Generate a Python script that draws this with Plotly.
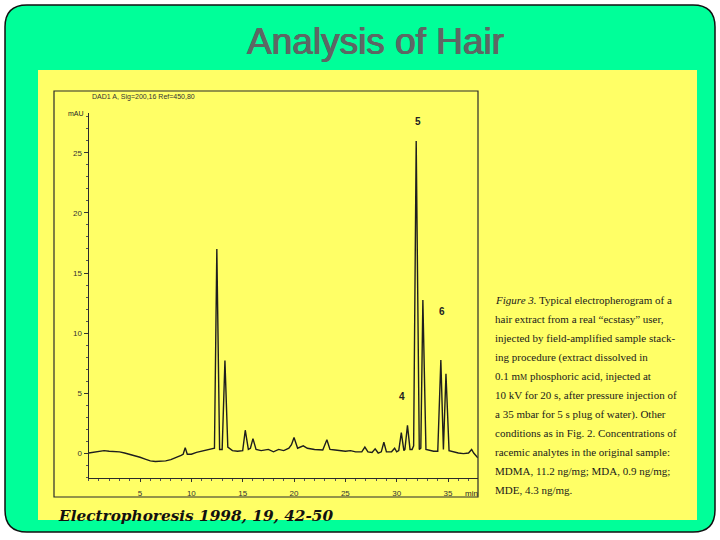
import plotly.graph_objects as go

# ---------------- data ----------------
time_min = [0.0, 0.5, 1.0, 1.5, 2.0, 2.5, 3.0, 3.5, 4.0, 4.5, 5.0, 5.5, 6.0, 6.5, 7.0, 7.5,
            8.0, 8.5, 9.0, 9.2, 9.4, 9.6, 10.0, 10.5, 11.0, 11.5, 12.0, 12.25, 12.48, 12.75,
            13.0, 13.27, 13.55, 14.0, 14.5, 15.0, 15.25, 15.55, 15.75, 16.0, 16.3, 16.8,
            17.5, 18.0, 18.5, 19.0, 19.5, 19.75, 20.0, 20.35, 20.9, 21.3, 22.0, 22.8, 23.2,
            23.5, 24.0, 25.0, 25.5, 26.0, 26.6, 26.9, 27.2, 27.6, 27.9, 28.2, 28.5, 28.75,
            29.0, 29.5, 29.8, 30.0, 30.2, 30.45, 30.7, 30.8, 31.05, 31.3, 31.5, 31.65, 31.9,
            32.2, 32.35, 32.55, 32.85, 33.2, 33.6, 34.0, 34.3, 34.55, 34.8, 35.1, 35.5, 36.0,
            36.5, 37.0, 37.3, 37.5, 37.9]
signal_mau = [0.0, 0.05, 0.15, 0.2, 0.15, 0.15, 0.1, 0.0, -0.1, -0.2, -0.35, -0.5, -0.65, -0.7, -0.7, -0.65,
              -0.55, -0.4, -0.2, -0.1, 0.45, -0.1, -0.1, 0.05, 0.15, 0.3, 0.35, 0.4, 17.0, 0.3,
              0.3, 7.7, 0.5, 0.2, 0.15, 0.2, 1.9, 0.3, 0.4, 1.2, 0.3, 0.2,
              0.3, 0.1, 0.3, 0.2, 0.4, 0.7, 1.3, 0.4, 0.6, 0.4, 0.3, 0.25, 1.1,
              0.3, 0.25, 0.15, 0.2, 0.1, 0.1, 0.5, 0.1, 0.05, 0.35, 0.0, 0.1, 0.9,
              0.1, 0.1, 0.4, 0.1, 0.2, 1.7, 0.2, 0.3, 2.3, 0.3, 0.3, 0.6, 26.0,
              0.3, 0.4, 12.75, 0.3, 0.2, 0.15, 0.15, 7.75, 0.3, 6.6, 0.2, 0.1, 0.0,
              -0.05, 0.0, 0.3, 0.0, -0.4]

peak_labels = ["4", "5", "6"]
peak_label_time = [30.56, 32.07, 34.41]
peak_label_mau = [4.67, 27.6, 11.83]

y_tick_vals = [0, 5, 10, 15, 20, 25]
x_tick_vals = [5, 10, 15, 20, 25, 30, 35]

caption_lines = [
    "<i>Figure 3.</i> Typical electropherogram of a",
    "hair extract from a real \u201cecstasy\u201d user,",
    "injected by field-amplified sample stack-",
    "ing procedure (extract dissolved in",
    "0.1 m<span style='font-size:8px'>M</span> phosphoric acid, injected at",
    "10 kV for 20 s, after pressure injection of",
    "a 35 mbar for 5 s plug of water). Other",
    "conditions as in Fig. 2. Concentrations of",
    "racemic analytes in the original sample:",
    "MDMA, 11.2 ng/mg; MDA, 0.9 ng/mg;",
    "MDE, 4.3 ng/mg.",
]

W, H = 720, 540


def px(x):
    return x / W


def py(y):
    return 1 - y / H


fig = go.Figure()
fig.add_trace(go.Scatter(x=time_min, y=signal_mau, mode="lines",
                         line=dict(color="#1e1e1e", width=1.4), hoverinfo="skip",
                         showlegend=False))

# ---------- slide background shapes ----------
x0, x1, y0, y1 = px(5), px(715), py(532), py(5)
rx, ry = 22 / W, 22 / H
rounded = (f"M {x0+rx},{y1} L {x1-rx},{y1} Q {x1},{y1} {x1},{y1-ry} "
           f"L {x1},{y0+ry} Q {x1},{y0} {x1-rx},{y0} L {x0+rx},{y0} "
           f"Q {x0},{y0} {x0},{y0+ry} L {x0},{y1-ry} Q {x0},{y1} {x0+rx},{y1} Z")
shapes = [
    dict(type="path", xref="paper", yref="paper", path=rounded,
         fillcolor="#00FF99", line=dict(color="#111111", width=1.5), layer="below"),
    dict(type="rect", xref="paper", yref="paper", x0=px(38), x1=px(697), y0=py(520), y1=py(70),
         fillcolor="#FFFF66", line=dict(width=0), layer="below"),
    dict(type="rect", xref="paper", yref="paper", x0=px(54), x1=px(478), y0=py(497), y1=py(91),
         fillcolor="rgba(0,0,0,0)", line=dict(color="#2a2a2a", width=1.2), layer="below"),
]

title_color = "#5d6764"
annotations = [
    dict(text="Analysis of Hair", x=px(375), y=py(41), xref="paper", yref="paper",
         showarrow=False, xanchor="center", yanchor="middle",
         font=dict(family="Liberation Sans, Arial", size=37, color=title_color,
                   shadow=f"0.6px 0 0 {title_color}, -0.6px 0 0 {title_color}")),
    dict(text="<b><i>Electrophoresis 1998, 19, 42-50</i></b>", x=px(56), y=py(516),
         xref="paper", yref="paper", showarrow=False, xanchor="left", yanchor="middle",
         font=dict(family="DejaVu Serif, Liberation Serif, serif", size=15.3, color="#111111")),
    dict(text="DAD1 A, Sig=200,16 Ref=450,80", x=px(90), y=py(97), xref="paper", yref="paper",
         showarrow=False, xanchor="left", yanchor="middle",
         font=dict(family="Liberation Sans, Arial", size=7, color="#333333")),
    dict(text="mAU", x=px(76), y=py(113), xref="paper", yref="paper",
         showarrow=False, xanchor="center", yanchor="middle",
         font=dict(family="Liberation Sans, Arial", size=7, color="#222222")),
    dict(text="min", x=px(471), y=py(493), xref="paper", yref="paper",
         showarrow=False, xanchor="center", yanchor="middle",
         font=dict(family="Liberation Sans, Arial", size=8, color="#222222")),
]
for lab, t, v in zip(peak_labels, peak_label_time, peak_label_mau):
    annotations.append(dict(text=f"<b>{lab}</b>", x=t, y=v, xref="x", yref="y", showarrow=False,
                            xanchor="center", yanchor="middle",
                            font=dict(family="Liberation Sans, Arial",
                                      size=10, color="#222222")))
for i, line in enumerate(caption_lines):
    annotations.append(dict(text=line, x=px(493), y=py(300 + 19 * i), xref="paper", yref="paper",
                            showarrow=False, xanchor="left", yanchor="middle",
                            font=dict(family="Liberation Serif, Times New Roman, serif",
                                      size=11, color="#1a1a1a")))

axis_font = dict(family="Liberation Sans, Arial", size=8, color="#333333")
fig.update_layout(
    width=W, height=H, autosize=False,
    margin=dict(l=0, r=0, t=0, b=0),
    paper_bgcolor="white", plot_bgcolor="rgba(0,0,0,0)",
    shapes=shapes, annotations=annotations, showlegend=False,
    xaxis=dict(domain=[px(88.7), px(477.8)], range=[0, 37.9], showgrid=False, zeroline=False,
               showline=True, linecolor="#2a2a2a", linewidth=1.2, tickmode="array",
               tickvals=x_tick_vals, ticks="outside", ticklen=3, tickcolor="#333333",
               tickfont=axis_font, ticklabelstandoff=4,
               minor=dict(dtick=1, ticks="outside", ticklen=2, tickcolor="#555555")),
    yaxis=dict(domain=[py(478), py(113)], range=[-2.08, 28.33], showgrid=False, zeroline=False,
               showline=True, linecolor="#2a2a2a", linewidth=1.2, tickmode="array",
               tickvals=y_tick_vals, ticks="outside", ticklen=4, tickcolor="#333333",
               tickfont=axis_font,
               minor=dict(dtick=1, ticks="outside", ticklen=2, tickcolor="#555555")),
)

fig.write_html("out.html", config={"displayModeBar": False},
               post_script="document.body.style.margin='0';document.body.style.overflow='hidden';")
